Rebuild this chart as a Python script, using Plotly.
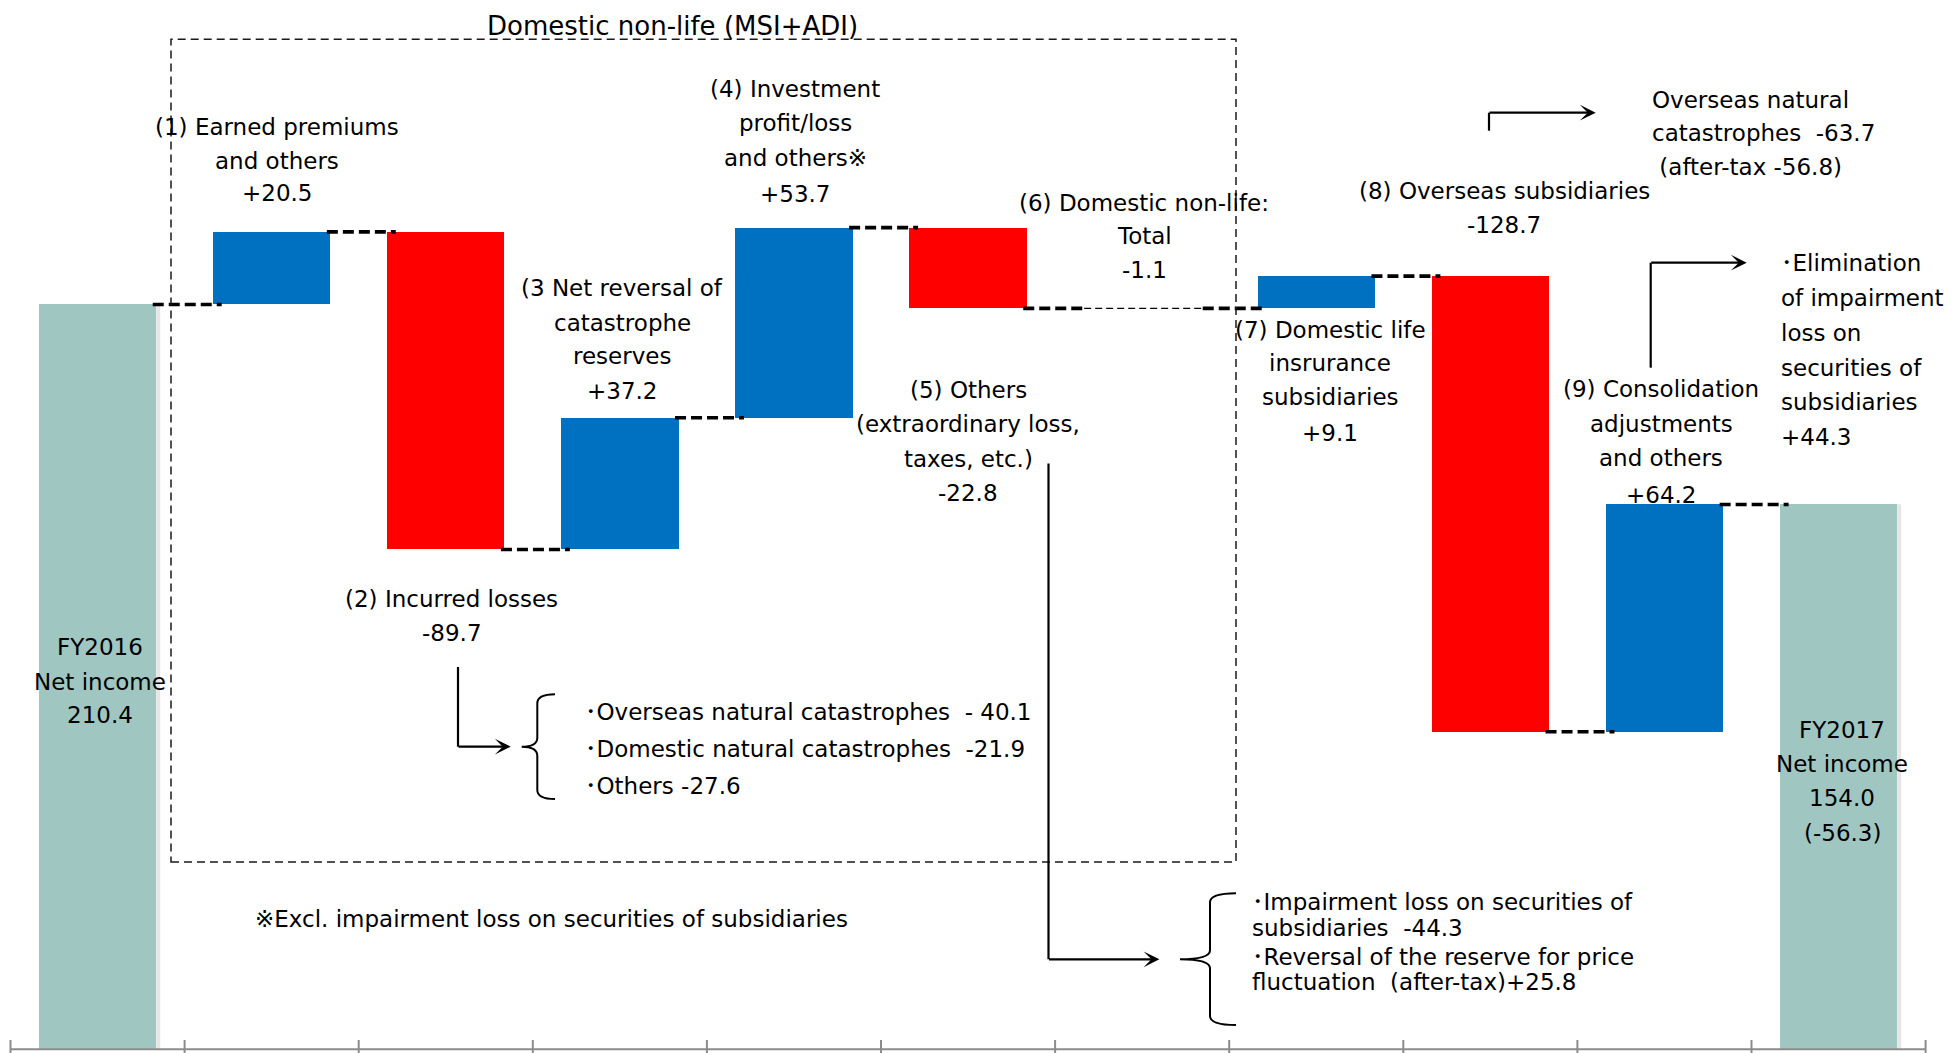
import plotly.graph_objects as go

# ---- data -----------------------------------------------------------------
categories = ["FY2016", "(1)", "(2)", "(3)", "(4)", "(5)", "(6)", "(7)", "(8)", "(9)", "FY2017"]
measures = ["absolute", "relative", "relative", "relative", "relative", "relative",
            "subtotal", "relative", "relative", "relative", "total"]
values = [210.4, 20.5, -89.7, 37.2, 53.7, -22.8, -1.1, 9.1, -128.7, 64.2, 154.0]

label_lines = [
    ["FY2016", "Net income", "210.4"],
    ["(1) Earned premiums", "and others", "+20.5"],
    ["(2) Incurred losses", "-89.7"],
    ["(3 Net reversal of", "catastrophe", "reserves", "+37.2"],
    ["(4) Investment", "profit/loss", "and others※", "+53.7"],
    ["(5) Others", "(extraordinary loss,", "taxes, etc.)", "-22.8"],
    ["(6) Domestic non-life:", "Total", "-1.1"],
    ["(7) Domestic life", "insrurance", "subsidiaries", "+9.1"],
    ["(8) Overseas subsidiaries", "-128.7"],
    ["(9) Consolidation", "adjustments", "and others", "+64.2"],
    ["FY2017", "Net income", "154.0", "(-56.3)"],
]

title_text = "Domestic non-life (MSI+ADI)"
footnote_text = "※Excl. impairment loss on securities of subsidiaries"
losses_breakdown = ["･Overseas natural catastrophes\u00a0\u00a0- 40.1",
                    "･Domestic natural catastrophes\u00a0\u00a0-21.9",
                    "･Others -27.6"]
others_breakdown = ["･Impairment loss on securities of",
                    "subsidiaries\u00a0\u00a0-44.3",
                    "･Reversal of the reserve for price",
                    "fluctuation\u00a0\u00a0(after-tax)+25.8"]
overseas_note = ["Overseas natural", "catastrophes\u00a0\u00a0-63.7", "\u00a0(after-tax -56.8)"]
elimination_note = ["･Elimination", "of impairment", "loss on", "securities of", "subsidiaries", "+44.3"]

# ---- colours / geometry ---------------------------------------------------
TEAL, BLUE, RED = "#A0C6C1", "#0070C0", "#FF0000"
W, H = 1954, 1053
BAR_W = 0.674
CAT_PX = 174.1           # pixels per category
Y_PX = 3.54              # pixels per unit
ZERO_PX = 1049.3         # pixel row of the baseline
X0 = -0.5 - 10.5 / CAT_PX
X1 = X0 + W / CAT_PX
Y0 = -(H - ZERO_PX) / Y_PX
Y1 = ZERO_PX / Y_PX

FONT = dict(family="DejaVu Sans, Noto Sans CJK JP, sans-serif", size=23, color="black")
TITLE_FONT = dict(FONT, size=26)


def xd(px):
    return X0 + px / CAT_PX


def yd(py):
    return (ZERO_PX - py) / Y_PX


# ---- waterfall bars (base + height) ---------------------------------------
xs, bases, heights, colors = [], [], [], []
levels = []
level = 0.0
for i, (m, v) in enumerate(zip(measures, values)):
    if m == "absolute":
        level = v
        xs.append(i); bases.append(0); heights.append(v); colors.append(TEAL)
    elif m == "relative":
        xs.append(i); bases.append(level); heights.append(v)
        colors.append(BLUE if v >= 0 else RED)
        level += v
    elif m == "total":
        xs.append(i); bases.append(0); heights.append(v); colors.append(TEAL)
        level = v
    levels.append((i, m, level))

fig = go.Figure()
fig.add_trace(go.Bar(
    x=xs, y=heights, base=bases, width=BAR_W,
    marker=dict(color=colors, line=dict(width=0)),
    hoverinfo="skip", showlegend=False,
))

shapes = []

# soft shadow on the right of the two net-income columns
for i, b, h, c in zip(xs, bases, heights, colors):
    if c == TEAL:
        shapes.append(dict(type="rect", xref="x", yref="y",
                           x0=i + BAR_W / 2, x1=i + BAR_W / 2 + 4 / CAT_PX,
                           y0=b, y1=b + h, line=dict(width=0),
                           fillcolor="rgba(0,0,0,0.10)", layer="below"))

# dashed connectors between consecutive bars
drawn = [i for i, m, _ in levels if m != "subtotal"]
lvl = {i: l for i, m, l in levels}
thick = dict(color="black", width=3.6, dash="11px,5px")
thin = dict(color="black", width=1.4, dash="7px,4px")
for a, b in zip(drawn[:-1], drawn[1:]):
    y = lvl[a]
    xa, xb = a + BAR_W / 2 - 0.02, b - BAR_W / 2 + 0.05
    if b - a == 1:
        shapes.append(dict(type="line", xref="x", yref="y", x0=xa, x1=xb, y0=y, y1=y, line=thick))
    else:
        # connector across the domestic non-life total column
        m1, m2 = a + 0.667, b - 0.652
        shapes.append(dict(type="line", xref="x", yref="y", x0=xa, x1=m1, y0=y, y1=y, line=thick))
        shapes.append(dict(type="line", xref="x", yref="y", x0=m1, x1=m2, y0=y, y1=y, line=thin))
        shapes.append(dict(type="line", xref="x", yref="y", x0=m2, x1=xb, y0=y, y1=y, line=thick))

# category axis with crossing ticks
AX = dict(color="#8C8C8C", width=2)
shapes.append(dict(type="line", xref="x", yref="y", x0=-0.5, x1=len(categories) - 0.5,
                   y0=0, y1=0, line=AX))
for k in range(len(categories) + 1):
    shapes.append(dict(type="line", xref="x", yref="y", x0=k - 0.5, x1=k - 0.5,
                       y0=yd(1053), y1=yd(1040), line=AX))

# dashed frame around the domestic non-life items
shapes.append(dict(type="rect", xref="x", yref="y", x0=xd(171), x1=xd(1236),
                   y0=yd(862), y1=yd(39.3),
                   line=dict(color="#1a1a1a", width=1.5, dash="8px,5px")))


def brace(xv, ytop, ybot, xhook, xtip):
    ym = (ytop + ybot) / 2
    r = 9
    pts = [
        f"M {xd(xhook)},{yd(ytop)}",
        f"Q {xd(xv)},{yd(ytop)} {xd(xv)},{yd(ytop + r)}",
        f"L {xd(xv)},{yd(ym - r)}",
        f"Q {xd(xv)},{yd(ym)} {xd(xtip)},{yd(ym)}",
        f"Q {xd(xv)},{yd(ym)} {xd(xv)},{yd(ym + r)}",
        f"L {xd(xv)},{yd(ybot - r)}",
        f"Q {xd(xv)},{yd(ybot)} {xd(xhook)},{yd(ybot)}",
    ]
    return dict(type="path", xref="x", yref="y", path=" ".join(pts),
                line=dict(color="black", width=2))


shapes.append(brace(537.3, 694.3, 799, 555, 521.7))
shapes.append(brace(1210, 893.3, 1025, 1236, 1180))

annotations = []


def elbow_arrow(xv, ystart, ycorner, xtip):
    shapes.append(dict(type="line", xref="x", yref="y", x0=xd(xv), x1=xd(xv),
                       y0=yd(ystart), y1=yd(ycorner),
                       line=dict(color="black", width=2.2)))
    annotations.append(dict(x=xd(xtip), y=yd(ycorner), xref="x", yref="y",
                            ax=xv - 1 - xtip, ay=0, text="", showarrow=True,
                            arrowhead=3, arrowsize=1.2, arrowwidth=2.2,
                            arrowcolor="black", standoff=0))


elbow_arrow(458, 667, 746.7, 510.7)
elbow_arrow(1048.5, 463.6, 959.3, 1159.4)
elbow_arrow(1489, 130.7, 112.7, 1595.7)
elbow_arrow(1650.7, 367.7, 262.7, 1746.7)


def text_block(lines, x, ys, anchor="center", font=FONT):
    for line, y in zip(lines, ys):
        annotations.append(dict(x=x / W, y=1 - y / H, xref="paper", yref="paper",
                                text=line, showarrow=False, xanchor=anchor,
                                yanchor="middle", font=font))


# label placement for each category (centre x, line rows)
label_pos = [
    (99.5, [647.4, 681.7, 715]),
    (277, [126.7, 161, 193.3]),
    (451.5, [598.5, 633]),
    (622, [288.3, 322.5, 356.4, 391.3]),
    (795, [89.3, 123.3, 157.7, 194.3]),
    (968, [390, 423.7, 458.6, 493.5]),
    (1144, [202.7, 236, 270]),
    (1330, [330, 363, 396.5, 433]),
    (1504, [191.2, 224.6]),
    (1661, [389.5, 423.5, 458, 494.7]),
    (1842, [730, 764, 798.3, 833.3]),
]
for lines, (cx, rows) in zip(label_lines, label_pos):
    text_block(lines, cx, rows)

text_block([title_text], 672.5, [26], font=TITLE_FONT)
text_block([footnote_text], 252.5, [919], "left")
text_block(losses_breakdown, 583, [711.6, 749.4, 785.7], "left")
text_block(others_breakdown, 1249.5, [901.7, 928.3, 956.7, 981.7], "left")
text_block(overseas_note, 1649.6, [100, 133.3, 166.7], "left")
text_block(elimination_note, 1779, [263, 298, 333, 368, 402, 437], "left")

fig.update_layout(
    width=W, height=H,
    margin=dict(l=0, r=0, t=0, b=0),
    paper_bgcolor="white", plot_bgcolor="white",
    xaxis=dict(range=[X0, X1], visible=False, fixedrange=True),
    yaxis=dict(range=[Y0, Y1], visible=False, fixedrange=True),
    shapes=shapes, annotations=annotations,
    bargap=0, showlegend=False,
)

fig.write_html("out.html")
